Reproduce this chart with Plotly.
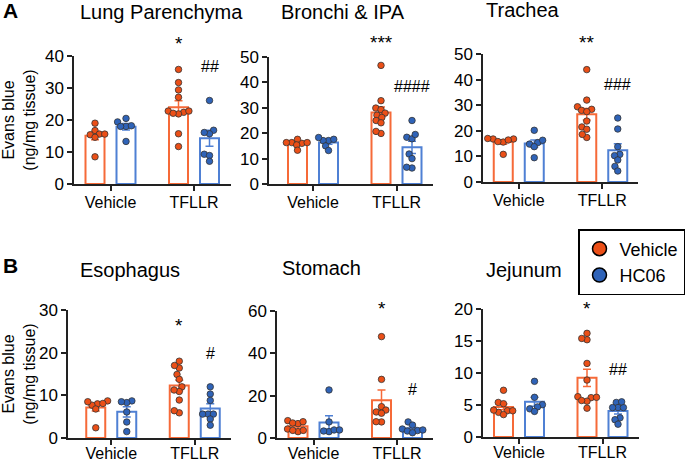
import numpy as np
import plotly.graph_objects as go

# ---------------- data ----------------
groups = ["Vehicle", "TFLLR"]
series_names = ["Vehicle", "HC06"]

lung_veh_veh = [19.0, 16.7, 15.6, 15.4, 15.6, 14.6, 8.5]
lung_veh_hc = [19.4, 20.5, 18.0, 18.0, 18.2, 13.3]
lung_tf_veh = [35.8, 31.7, 29.4, 27.1, 22.4, 22.8, 21.9, 22.8, 22.1, 15.7, 11.7]
lung_tf_hc = [26.1, 16.8, 15.7, 16.1, 9.3, 8.9, 7.1]

bron_veh_veh = [16.3, 16.0, 16.3, 17.6, 16.3, 15.4, 13.3]
bron_veh_hc = [17.1, 17.1, 17.6, 18.3, 15.0, 13.2]
bron_tf_veh = [46.7, 32.8, 29.9, 29.3, 27.9, 27.1, 25.0, 26.2, 24.1, 19.9, 20.7]
bron_tf_hc = [25.0, 18.4, 17.8, 19.5, 11.8, 10.0, 6.3, 6.6]

trach_veh_veh = [16.8, 15.6, 16.8, 17.0, 16.4, 15.8, 10.8]
trach_veh_hc = [20.2, 15.4, 16.3, 14.8, 13.8, 9.5]
trach_tf_veh = [43.9, 32.0, 29.4, 28.0, 28.4, 27.5, 23.8, 21.5, 20.6, 17.4, 18.6]
trach_tf_hc = [25.0, 20.7, 13.8, 10.8, 10.3, 8.6, 6.1, 4.3]

eso_veh_veh = [8.7, 8.0, 8.1, 7.7, 8.5, 6.8, 2.4]
eso_veh_hc = [8.7, 8.3, 8.5, 6.1, 3.75, 1.5]
eso_tf_veh = [18.0, 16.4, 17.0, 14.9, 13.75, 12.0, 10.9, 11.25, 8.9, 5.9, 6.4]
eso_tf_hc = [12.0, 10.3, 8.8, 5.6, 5.6, 5.6, 4.45, 3.0]

stom_veh_veh = [6.8, 8.2, 7.1, 7.7, 3.0, 4.25, 3.6, 3.6]
stom_veh_hc = [22.7, 7.6, 3.0, 3.8, 3.8, 3.3]
stom_tf_veh = [47.9, 27.7, 14.8, 12.3, 13.2, 11.7, 7.6, 7.7]
stom_tf_hc = [7.6, 3.5, 4.25, 3.3, 6.1, 3.8, 2.5]

jej_veh_veh = [7.3, 5.4, 5.2, 3.85, 4.2, 4.1, 4.1, 3.5]
jej_veh_hc = [8.7, 6.2, 5.05, 4.7, 4.4, 4.0]
jej_tf_veh = [16.2, 15.2, 15.4, 11.5, 8.9, 6.15, 6.3, 5.6, 5.7, 6.2, 4.5]
jej_tf_hc = [5.4, 4.6, 4.6, 4.6, 5.5, 3.0, 2.7, 2.0]

titles = ["Lung Parenchyma", "Bronchi & IPA", "Trachea", "Esophagus", "Stomach", "Jejunum"]
y_max = [40, 50, 50, 30, 60, 20]
y_dtick = [10, 10, 10, 10, 20, 5]
star_labels = ["*", "***", "**", "*", "*", "*"]
hash_labels = ["##", "####", "###", "#", "#", "##"]

panel_data = [
    (lung_veh_veh, lung_veh_hc, lung_tf_veh, lung_tf_hc),
    (bron_veh_veh, bron_veh_hc, bron_tf_veh, bron_tf_hc),
    (trach_veh_veh, trach_veh_hc, trach_tf_veh, trach_tf_hc),
    (eso_veh_veh, eso_veh_hc, eso_tf_veh, eso_tf_hc),
    (stom_veh_veh, stom_veh_hc, stom_tf_veh, stom_tf_hc),
    (jej_veh_veh, jej_veh_hc, jej_tf_veh, jej_tf_hc),
]

# ---------------- layout constants (pixels) ----------------
W, H = 685, 462
FONT = "Liberation Sans, Arial, Helvetica, sans-serif"
# plot boxes: left, right, top, bottom (px)
boxes = [(74, 231, 56, 184), (269, 433, 57, 184), (483, 638, 54, 182),
         (68, 231, 310, 438), (277, 433, 311, 438), (483, 639, 309, 437)]
group_center_px = [36.5, 44, 35.75, 43.25, 36.5, 36]   # first group centre from left edge
GROUP_PX = 83.5          # px between the two group centres
BAR_OFF = 15.5 / GROUP_PX
BAR_W = 19 / GROUP_PX
title_pos = [(161, 12), (343, 12), (523, 10), (130, 270), (321, 268), (524, 270)]
star_y = [45, 57, 55.5, 27, 62.8, 20.6]
hash_y = [36.6, 38.2, 37.9, 19.9, 22.7, 10.5]
label_standoff = [-2, -2, -2, -5, -5, -5]

ORANGE_BAR = "#F66A38"
ORANGE_PT = "#EB4F17"
BLUE_BAR = "#4F80D4"
BLUE_PT = "#2F63B8"
AX = "#222222"


def swarm(vals, ypx, d=5.4):
    """Simple beeswarm: returns horizontal pixel offsets."""
    n = len(vals)
    xs = [0.0] * n
    placed = []
    for i in sorted(range(n), key=lambda k: vals[k]):
        y = vals[i] * ypx
        iv = []
        for (px_, py_) in placed:
            dy = y - py_
            if abs(dy) < d:
                h = np.sqrt(d * d - dy * dy)
                iv.append((px_ - h, px_ + h))
        cands = [0.0] + [a for a, b in iv] + [b for a, b in iv]
        cands.sort(key=lambda c: (abs(c), c))
        x = 0.0
        for c in cands:
            if all(not (a + 1e-6 < c < b - 1e-6) for a, b in iv):
                x = c
                break
        placed.append((x, y))
        xs[i] = x
    return xs


fig = go.Figure()
annotations = []

for p in range(6):
    L, R, T, B = boxes[p]
    ax = "" if p == 0 else str(p + 1)
    xref, yref = "x" + ax, "y" + ax
    ypx = (B - T) / y_max[p]
    c0 = group_center_px[p]
    xr = [-c0 / GROUP_PX, ((R - L) - c0) / GROUP_PX]

    vv, vh, tv, th = panel_data[p]
    sets = [(vv, 0, -1), (vh, 0, 1), (tv, 1, -1), (th, 1, 1)]
    # bars with SEM
    for side, col in [(-1, ORANGE_BAR), (1, BLUE_BAR)]:
        xs, ys, es = [], [], []
        for vals, g, s in sets:
            if s != side:
                continue
            a = np.array(vals)
            xs.append(g + s * BAR_OFF)
            ys.append(a.mean())
            es.append(a.std(ddof=1) / np.sqrt(len(a)))
        fig.add_trace(go.Bar(
            x=xs, y=ys, width=BAR_W, xaxis=xref, yaxis=yref,
            marker=dict(color="white", line=dict(color=col, width=2)),
            error_y=dict(type="data", array=es, visible=True, color=col,
                         thickness=1.5, width=4),
            showlegend=False, hoverinfo="skip"))
    # points
    for vals, g, s in sets:
        offs = swarm(vals, ypx)
        fig.add_trace(go.Scatter(
            x=[g + s * BAR_OFF + o / GROUP_PX for o in offs], y=vals,
            xaxis=xref, yaxis=yref, mode="markers", cliponaxis=False,
            marker=dict(size=6.5, color=ORANGE_PT if s < 0 else BLUE_PT,
                        line=dict(color="#333333", width=0.8)),
            showlegend=False))

    xa = dict(domain=[L / W, R / W], range=xr, anchor=yref, automargin=False,
              showline=True, linecolor=AX, linewidth=1.5,
              ticks="outside", ticklen=5, tickwidth=1.5, tickcolor=AX,
              ticklabelstandoff=label_standoff[p],
              tickvals=[0, 1], ticktext=groups, showgrid=False, zeroline=False,
              tickfont=dict(size=16, color="black", family=FONT))
    ya = dict(domain=[1 - B / H, 1 - T / H], range=[0, y_max[p]], anchor=xref,
              automargin=False,
              showline=True, linecolor=AX, linewidth=1.5,
              ticks="outside", ticklen=5, tickwidth=1.5, tickcolor=AX,
              dtick=y_dtick[p], showgrid=False, zeroline=False,
              tickfont=dict(size=17, color="black", family=FONT))
    if p in (0, 3):
        ya["title"] = dict(text="Evans blue<br>(ng/mg tissue)", standoff=10,
                           font=dict(size=16, color="black", family=FONT))
    fig.update_layout(**{"xaxis" + ax: xa, "yaxis" + ax: ya})

    annotations.append(dict(x=1 - BAR_OFF, y=star_y[p] / y_max[p], xref=xref,
                            yref=yref + " domain", xanchor="center", yanchor="middle",
                            text=star_labels[p], showarrow=False, yshift=-3,
                            font=dict(size=19, color="black", family=FONT)))
    annotations.append(dict(x=1 + BAR_OFF, y=hash_y[p] / y_max[p], xref=xref,
                            yref=yref + " domain", xanchor="center", yanchor="middle",
                            text=hash_labels[p], showarrow=False,
                            font=dict(size=16, color="black", family=FONT)))
    tx, ty = title_pos[p]
    annotations.append(dict(x=tx / W, y=1 - ty / H, xref="paper", yref="paper",
                            text=titles[p], showarrow=False,
                            xanchor="center", yanchor="middle",
                            font=dict(size=20, color="black", family=FONT)))

for lab, ty in [("A", 10.5), ("B", 265.5)]:
    annotations.append(dict(x=10 / W, y=1 - ty / H, xref="paper", yref="paper",
                            text="<b>%s</b>" % lab, showarrow=False,
                            xanchor="center", yanchor="middle",
                            font=dict(size=21, color="black", family=FONT)))

# legend entries
for name, col in zip(series_names, [ORANGE_PT, BLUE_PT]):
    fig.add_trace(go.Scatter(x=[None], y=[None], mode="markers", name=name,
                             marker=dict(size=14, color=col,
                                         line=dict(color="black", width=1.5))))

fig.update_layout(
    width=W, height=H, margin=dict(l=0, r=0, t=0, b=0, autoexpand=False),
    paper_bgcolor="white", plot_bgcolor="white", barmode="overlay",
    font=dict(family=FONT, color="black"),
    annotations=annotations,
    legend=dict(x=578 / W, y=1 - 229 / H, xanchor="left", yanchor="top",
                bordercolor="black", borderwidth=1.5, bgcolor="white",
                font=dict(size=18, color="black", family=FONT),
                tracegroupgap=0, itemwidth=30),
)

fig.write_html("out.html", config={"displayModeBar": False},
               post_script="document.body.style.margin='0px';document.body.style.overflow='hidden';")
